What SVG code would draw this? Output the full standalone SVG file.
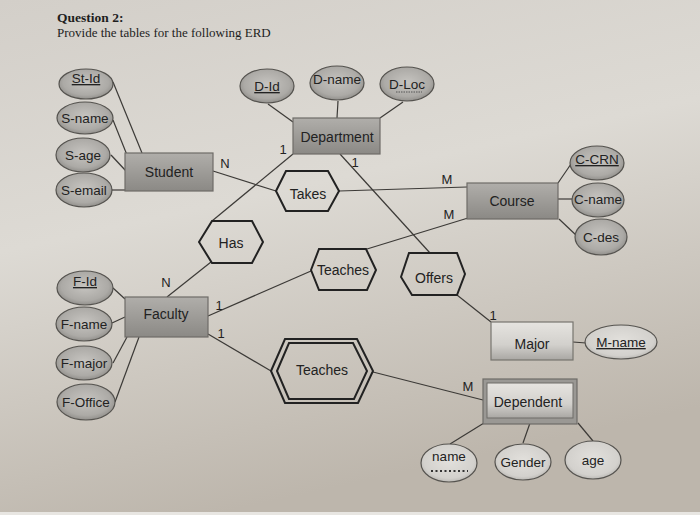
<svg xmlns="http://www.w3.org/2000/svg" width="700" height="515" viewBox="0 0 700 515">
<defs>
  <linearGradient id="paper" x1="0" y1="0" x2="0.3" y2="1">
    <stop offset="0" stop-color="#d3cfc9"/>
    <stop offset="0.45" stop-color="#dddad4"/>
    <stop offset="1" stop-color="#bdb6ac"/>
  </linearGradient>
  <linearGradient id="ent" x1="0" y1="0" x2="0" y2="1">
    <stop offset="0" stop-color="#b0aeaa"/>
    <stop offset="1" stop-color="#8b8985"/>
  </linearGradient>
  <linearGradient id="ent2" x1="0" y1="0" x2="0" y2="1">
    <stop offset="0" stop-color="#e6e4e0"/>
    <stop offset="0.6" stop-color="#d2d0cc"/>
    <stop offset="1" stop-color="#a9a7a3"/>
  </linearGradient>
  <radialGradient id="att" cx="0.5" cy="0.45" r="0.6">
    <stop offset="0" stop-color="#c6c4c0"/>
    <stop offset="0.7" stop-color="#acaaa6"/>
    <stop offset="1" stop-color="#888682"/>
  </radialGradient>
  <radialGradient id="attl" cx="0.5" cy="0.45" r="0.6">
    <stop offset="0" stop-color="#e2e0dc"/>
    <stop offset="0.75" stop-color="#d3d1cd"/>
    <stop offset="1" stop-color="#b0aeaa"/>
  </radialGradient>
  <style>
    .t{font-family:"Liberation Sans",Arial,sans-serif;font-size:14px;fill:#222;text-anchor:middle}
    .a{font-size:13.5px}
    .lb{font-family:"Liberation Sans",Arial,sans-serif;font-size:13px;fill:#222;text-anchor:middle}
    .ent{fill:url(#ent);stroke:#6e6c68;stroke-width:1.2}
    .ent2{fill:url(#ent2);stroke:#77756f;stroke-width:1.2}
    .att{fill:url(#att);stroke:#55534f;stroke-width:1.2}
    .attl{fill:url(#attl);stroke:#55534f;stroke-width:1.2}
    .rel{fill:none;stroke:#222;stroke-width:2}
    .con line{stroke:#3c3a37;stroke-width:1.2}
    .u{text-decoration:underline}
  </style>
</defs>
<rect width="700" height="515" fill="url(#paper)"/>
<rect y="512" width="700" height="3" fill="#e8e6e2"/>
<text x="57" y="22" font-family="Liberation Serif,serif" font-size="13.5" font-weight="bold" fill="#1e1e1e">Question 2:</text>
<text x="57" y="37" font-family="Liberation Serif,serif" font-size="13" fill="#1e1e1e">Provide the tables for the following ERD</text>

<g id="connectors" class="con">
  <line x1="113" y1="82" x2="142" y2="153"/>
  <line x1="113" y1="120" x2="127" y2="155"/>
  <line x1="111" y1="155" x2="126" y2="171"/>
  <line x1="112" y1="190" x2="126" y2="190"/>
  <line x1="213" y1="171" x2="276" y2="191"/>
  <line x1="268" y1="104" x2="293" y2="122"/>
  <line x1="338" y1="101" x2="337" y2="118"/>
  <line x1="403" y1="102" x2="380" y2="118"/>
  <line x1="293" y1="154" x2="212" y2="221"/>
  <line x1="340" y1="154" x2="430" y2="253"/>
  <line x1="339" y1="191" x2="467" y2="187"/>
  <line x1="367" y1="249" x2="468" y2="218"/>
  <line x1="558" y1="183" x2="571" y2="164"/>
  <line x1="558" y1="199" x2="572" y2="199"/>
  <line x1="559" y1="219" x2="577" y2="236"/>
  <line x1="113" y1="288" x2="125" y2="299"/>
  <line x1="112" y1="323" x2="125" y2="317"/>
  <line x1="113" y1="363" x2="127" y2="337"/>
  <line x1="115" y1="402" x2="139" y2="337"/>
  <line x1="167" y1="297" x2="211" y2="262"/>
  <line x1="208" y1="316" x2="311" y2="271"/>
  <line x1="208" y1="334" x2="271" y2="371"/>
  <line x1="457" y1="295" x2="491" y2="322"/>
  <line x1="573" y1="342" x2="586" y2="343"/>
  <line x1="373" y1="372" x2="483" y2="400"/>
  <line x1="484" y1="423" x2="450" y2="444"/>
  <line x1="530" y1="423" x2="523" y2="443"/>
  <line x1="578" y1="423" x2="593" y2="441"/>
</g>

<g id="labels">
  <text class="lb" x="225" y="168">N</text>
  <text class="lb" x="283" y="154">1</text>
  <text class="lb" x="355" y="167">1</text>
  <text class="lb" x="447" y="184">M</text>
  <text class="lb" x="449" y="219">M</text>
  <text class="lb" x="166" y="287">N</text>
  <text class="lb" x="219" y="310">1</text>
  <text class="lb" x="221" y="338">1</text>
  <text class="lb" x="493" y="320">1</text>
  <text class="lb" x="468" y="391">M</text>
</g>

<g id="st-id"><ellipse class="att" cx="86" cy="84" rx="27" ry="15"/><text class="t a u" x="86" y="83">St-Id</text></g>
<g id="s-name"><ellipse class="att" cx="85" cy="118" rx="28" ry="16"/><text class="t a" x="85" y="123">S-name</text></g>
<g id="s-age"><ellipse class="att" cx="83" cy="155" rx="27" ry="17"/><text class="t a" x="83" y="160">S-age</text></g>
<g id="s-email"><ellipse class="att" cx="84" cy="190" rx="28" ry="17"/><text class="t a" x="84" y="195">S-email</text></g>
<g id="student"><rect class="ent" x="125" y="153" width="88" height="38"/><text class="t" x="169" y="177">Student</text></g>

<g id="d-id"><ellipse class="att" cx="267" cy="86" rx="27" ry="17"/><text class="t a u" x="267" y="91">D-Id</text></g>
<g id="d-name"><ellipse class="att" cx="337" cy="83" rx="27" ry="17"/><text class="t a" x="337" y="84">D-name</text></g>
<g id="d-loc"><ellipse class="att" cx="407" cy="84" rx="27" ry="17"/><text class="t a" x="407" y="89">D-Loc</text><line x1="396" y1="92" x2="422" y2="92" stroke="#555" stroke-width="1" stroke-dasharray="1.5 1"/></g>
<g id="department"><rect class="ent" x="293" y="118" width="87" height="36"/><text class="t" x="337" y="142">Department</text></g>

<g id="takes"><polygon class="rel" points="276,191 286,171 328,171 339,191 328,211 286,211"/><text class="t" x="308" y="199">Takes</text></g>

<g id="course"><rect class="ent" x="467" y="183" width="91" height="36"/><text class="t" x="512" y="206">Course</text></g>
<g id="c-crn"><ellipse class="att" cx="597" cy="163" rx="27" ry="17"/><text class="t a u" x="597" y="164">C-CRN</text></g>
<g id="c-name"><ellipse class="att" cx="598" cy="200" rx="26" ry="17"/><text class="t a" x="598" y="204">C-name</text></g>
<g id="c-des"><ellipse class="att" cx="601" cy="237" rx="26" ry="18"/><text class="t a" x="601" y="242">C-des</text></g>

<g id="has"><polygon class="rel" points="199,242 212,221 252,221 263,242 252,263 212,263"/><text class="t" x="231" y="248">Has</text></g>
<g id="teaches1"><polygon class="rel" points="311,270 319,249 366,249 376,270 367,290 319,290"/><text class="t" x="343" y="275">Teaches</text></g>
<g id="offers"><polygon class="rel" points="401,277 409,253 457,253 465,274 457,295 412,295"/><text class="t" x="434" y="283">Offers</text></g>

<g id="f-id"><ellipse class="att" cx="85" cy="288" rx="28" ry="17"/><text class="t a u" x="85" y="286">F-Id</text></g>
<g id="f-name"><ellipse class="att" cx="84" cy="324" rx="28" ry="17"/><text class="t a" x="84" y="329">F-name</text></g>
<g id="f-major"><ellipse class="att" cx="84" cy="363" rx="28" ry="17"/><text class="t a" x="84" y="368">F-major</text></g>
<g id="f-office"><ellipse class="att" cx="86" cy="402" rx="29" ry="18"/><text class="t a" x="86" y="407">F-Office</text></g>
<g id="faculty"><rect class="ent" x="125" y="297" width="83" height="40"/><text class="t" x="166" y="319">Faculty</text></g>

<g id="teaches2"><polygon class="rel" points="271,371 285,339 357,339 373,371 358,403 285,403"/><polygon class="rel" points="277,371 289,343 353,343 367,371 354,399 289,399"/><text class="t" x="322" y="375">Teaches</text></g>

<g id="major"><rect class="ent2" x="491" y="322" width="82" height="38"/><text class="t" x="532" y="349">Major</text></g>
<g id="m-name"><ellipse class="attl" cx="621" cy="342" rx="36" ry="17"/><text class="t a u" x="621" y="347">M-name</text></g>

<g id="dependent"><rect x="483" y="379" width="94" height="45" fill="#9a9894" stroke="#6e6c68" stroke-width="1.2"/><rect x="487" y="383" width="86" height="35" fill="url(#ent2)" stroke="#6e6c68" stroke-width="1"/><text class="t" x="528" y="407">Dependent</text></g>
<g id="name"><ellipse class="attl" cx="449" cy="463" rx="28" ry="19"/><text class="t a" x="449" y="461">name</text><line x1="431" y1="471" x2="468" y2="471" stroke="#333" stroke-width="2" stroke-dasharray="2 2.5"/></g>
<g id="gender"><ellipse class="attl" cx="523" cy="462" rx="28" ry="18"/><text class="t a" x="523" y="467">Gender</text></g>
<g id="age"><ellipse class="attl" cx="593" cy="460" rx="28" ry="19"/><text class="t a" x="593" y="465">age</text></g>
</svg>
